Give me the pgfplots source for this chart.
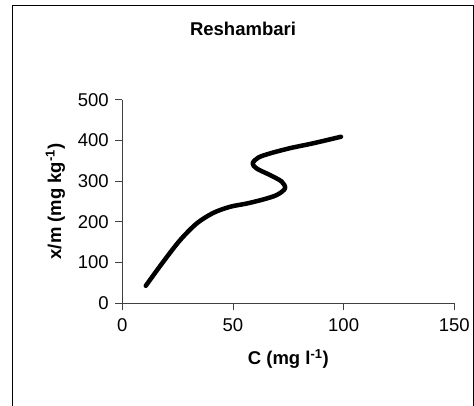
\documentclass[border=0pt]{standalone}
\usepackage{fontspec}
\setmainfont{Liberation Sans}
\usepackage{pgfplots}
\pgfplotsset{compat=1.18}

\begin{document}
\begin{tikzpicture}
\useasboundingbox (0pt,0pt) rectangle (474pt,406pt);
% outer chart frame (bottom edge lies below the page)
\draw[line width=1pt] (12.7pt,-10pt) -- (12.7pt,400pt) -- (473.3pt,400pt) -- (473.3pt,-10pt);
\begin{axis}[
    at={(122.3pt,102.7pt)},
    anchor=south west,
    scale only axis,
    width=332pt,
    height=203.6pt,
    xmin=0, xmax=150,
    ymin=0, ymax=500,
    axis x line*=bottom,
    axis y line*=left,
    axis line style={black!75, line width=0.9pt},
    xtick={0,50,100,150},
    ytick={0,100,200,300,400,500},
    tick align=outside,
    major tick length=7pt,
    tick style={black!75, line width=0.9pt},
    ticklabel style={font=\fontsize{18.5}{20}\selectfont},
    xticklabel style={yshift=-5pt},
    yticklabel style={xshift=-3pt},
    /pgf/number format/assume math mode=true,
    xlabel={C (mg l\textsuperscript{-1})},
    ylabel={x/m (mg kg\textsuperscript{-1})},
    label style={font=\bfseries\fontsize{18.5}{20}\selectfont},
    xlabel style={at={(axis description cs:0.5,-0.303)}, anchor=base},
    ylabel style={at={(axis description cs:-0.1846,0.5)}, anchor=base},
]
\addplot[black, line width=4.5pt, line cap=round, line join=round, smooth, tension=0.5] coordinates {
    (10.6,43) (18.5,102) (26.1,155) (33.6,196) (41.1,222) (48.7,237)
    (56.2,245) (63.7,255) (69.8,266) (73.5,282) (72,299) (66.7,315)
    (60.7,331) (58.9,344) (61.5,358) (66.7,368) (75.8,381) (86.3,393)
    (98.8,409)
};
\end{axis}
\node[anchor=base, font=\bfseries\fontsize{18.5}{20}\selectfont] at (243pt,370pt) {Reshambari};
\end{tikzpicture}
\end{document}
